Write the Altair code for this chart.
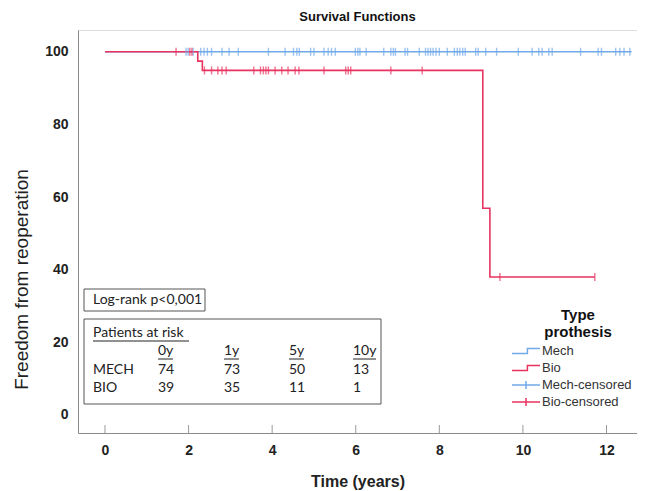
import altair as alt
import pandas as pd

# ---------------- data ----------------
mech_curve_time = [0, 12.6]
mech_curve_surv = [100, 100]
bio_curve_time = [0, 2.22, 2.33, 9.04, 9.21, 11.72]
bio_curve_surv = [100, 97.44, 94.87, 56.92, 37.95, 37.95]

mech_censor_times = [1.94, 1.99, 2.11, 2.29, 2.37, 2.45, 2.55, 2.80, 2.97, 3.19,
                     3.91, 4.31, 4.51, 4.59, 4.65, 4.92, 5.00, 5.24, 5.34, 5.42,
                     5.51, 5.99, 6.05, 6.10, 6.25, 6.67, 6.84, 6.90, 6.95, 7.18,
                     7.24, 7.52, 7.67, 7.73, 7.79, 7.85, 7.92, 8.00, 8.19, 8.36,
                     8.43, 8.49, 8.56, 8.62, 8.87, 8.93, 9.11, 9.37, 9.89, 10.22,
                     10.38, 10.46, 10.62, 10.70, 11.38, 11.80, 11.88, 12.22, 12.32,
                     12.42, 12.56]
bio_censor_times = [1.70, 2.03, 2.08, 2.38, 2.55, 2.70, 2.80, 2.90, 3.56, 3.72,
                    3.79, 3.85, 3.91, 4.07, 4.23, 4.38, 4.55, 4.64, 5.24, 5.76,
                    5.82, 5.88, 6.84, 7.59, 9.45, 11.72]

x_ticks = [0, 2, 4, 6, 8, 10, 12]
y_ticks = [0, 20, 40, 60, 80, 100]

legend_labels = ["Mech", "Bio", "Mech-censored", "Bio-censored"]
legend_colors = ["#72a9e8", "#e8335f", "#72a9e8", "#e8335f"]
STEP = "M-3,0.36H-0.8V-0.36H1H-0.8V0.36H-3"
CROSS = "M-3,0H1M-1,-0.57V0.57"
legend_shapes = [STEP, STEP, CROSS, CROSS]

logrank_text = "Log-rank p<0,001"
risk_title = "Patients at risk"
risk_years = ["0y", "1y", "5y", "10y"]
risk_groups = ["MECH", "BIO"]
mech_at_risk = [74, 73, 50, 13]
bio_at_risk = [39, 35, 11, 1]

# ---------------- tables ----------------
W, H = 559, 403
XDOM = [-0.646, 12.73]
YDOM = [-5, 106]


def step_value(t, times, surv):
    v = surv[0]
    for tt, s in zip(times, surv):
        if t >= tt:
            v = s
    return v


curves = pd.DataFrame(
    [{"t": t, "s": s, "grp": "Mech"} for t, s in zip(mech_curve_time, mech_curve_surv)]
    + [{"t": t, "s": s, "grp": "Bio"} for t, s in zip(bio_curve_time, bio_curve_surv)]
)
censors = pd.DataFrame(
    [{"t": t, "s": step_value(t, mech_curve_time, mech_curve_surv), "grp": "Mech-censored"}
     for t in mech_censor_times]
    + [{"t": t, "s": step_value(t, bio_curve_time, bio_curve_surv), "grp": "Bio-censored"}
       for t in bio_censor_times]
)

xs = alt.Scale(domain=XDOM, nice=False, zero=False)
ys = alt.Scale(domain=YDOM, nice=False, zero=False)
color_scale = alt.Scale(domain=legend_labels, range=legend_colors)
shape_scale = alt.Scale(domain=legend_labels, range=legend_shapes)

the_legend = alt.Legend(title=["Type", "prothesis"], orient="none",
                        legendX=447, legendY=278,
                        titleFontSize=15, titleFontWeight="bold",
                        titleAlign="center", titleAnchor="middle",
                        titleColor="#111", titleFont="Liberation Sans",
                        labelFontSize=13, labelColor="#333",
                        labelFont="Liberation Sans",
                        symbolSize=196, symbolStrokeWidth=1.5,
                        symbolOpacity=1, symbolFillColor="transparent",
                        rowPadding=2, labelOffset=1, titlePadding=3)

lines = alt.Chart(curves).mark_line(interpolate="step-after", strokeWidth=1.6).encode(
    x=alt.X("t:Q", scale=xs,
            axis=alt.Axis(values=x_ticks, title="Time (years)", ticks=False,
                          labelFontWeight="bold", labelFontSize=14, labelPadding=10,
                          titleFontSize=16, titleFontWeight="bold", titlePadding=16,
                          grid=False, domainColor="#8a8a8a", labelColor="#222",
                          titleColor="#222", labelFont="Liberation Sans",
                          titleFont="Liberation Sans")),
    y=alt.Y("s:Q", scale=ys,
            axis=alt.Axis(values=y_ticks, title="Freedom from reoperation", ticks=False,
                          labelFontWeight="bold", labelFontSize=14, labelPadding=10,
                          titleFontSize=19, titleFontWeight="normal",
                          titleX=-47, titleY=249, titleAnchor="middle",
                          grid=False, domainColor="#8a8a8a", labelColor="#222",
                          titleColor="#222", labelFont="Liberation Sans",
                          titleFont="Liberation Sans")),
    color=alt.Color("grp:N", scale=color_scale, legend=the_legend),
    detail="grp:N",
)

ticks_censor = alt.Chart(censors).mark_tick(orient="vertical", size=8, thickness=1.4).encode(
    x=alt.X("t:Q", scale=xs),
    y=alt.Y("s:Q", scale=ys),
    color=alt.Color("grp:N", scale=color_scale, legend=the_legend),
)

legend_df = pd.DataFrame({"grp": legend_labels, "t": [0] * 4, "s": [50] * 4})
legend_layer = alt.Chart(legend_df).mark_point(filled=False, opacity=0).encode(
    x=alt.X("t:Q", scale=xs),
    y=alt.Y("s:Q", scale=ys),
    color=alt.Color("grp:N", scale=color_scale, legend=the_legend),
    shape=alt.Shape("grp:N", scale=shape_scale, legend=the_legend),
)

# x-axis inward ticks
xt_df = pd.DataFrame({"t": x_ticks})
x_tick_rules = alt.Chart(xt_df).mark_rule(color="#9a9a9a", strokeWidth=1).encode(
    x=alt.X("t:Q", scale=xs),
    y=alt.value(H - 8),
    y2=alt.value(H),
)

# ---------------- annotation boxes ----------------
box_df = pd.DataFrame({
    "x": [6, 6], "x2": [127, 303], "y": [259, 289], "y2": [281, 374]
})
boxes = alt.Chart(box_df).mark_rect(fill="white", stroke="#555", strokeWidth=1).encode(
    x=alt.X("x:Q", scale=None), x2="x2:Q",
    y=alt.Y("y:Q", scale=None), y2="y2:Q",
)

col_x = [80, 146, 211, 275]
rows = []
rows.append({"txt": logrank_text, "px": 15, "py": 270})
rows.append({"txt": risk_title, "px": 15, "py": 303})
for cx, yr in zip(col_x, risk_years):
    rows.append({"txt": yr, "px": cx, "py": 321})
rows.append({"txt": risk_groups[0], "px": 15, "py": 340})
rows.append({"txt": risk_groups[1], "px": 15, "py": 358})
for cx, v in zip(col_x, mech_at_risk):
    rows.append({"txt": str(v), "px": cx, "py": 340})
for cx, v in zip(col_x, bio_at_risk):
    rows.append({"txt": str(v), "px": cx, "py": 358})
text_df = pd.DataFrame(rows)
texts = alt.Chart(text_df).mark_text(align="left", baseline="middle", font="Lato",
                                     fontSize=14, color="#222").encode(
    x=alt.X("px:Q", scale=None), y=alt.Y("py:Q", scale=None), text="txt:N"
)

ul_df = pd.DataFrame({
    "x": [15] + col_x,
    "x2": [15 + 96] + [cx + (23 if len(y) == 3 else 15) for cx, y in zip(col_x, risk_years)],
    "y": [311] + [329] * 4,
})
underlines = alt.Chart(ul_df).mark_rule(color="#222", strokeWidth=1).encode(
    x=alt.X("x:Q", scale=None), x2="x2:Q", y=alt.Y("y:Q", scale=None)
)

chart = alt.layer(
    lines, ticks_censor, legend_layer, x_tick_rules, boxes, underlines, texts
).resolve_scale(color="shared").properties(
    width=W, height=H,
    title=alt.TitleParams("Survival Functions", fontSize=13, fontWeight="bold",
                          font="Liberation Sans", anchor="middle", offset=6,
                          color="#111"),
    autosize=alt.AutoSizeParams(type="none"),
    padding={"left": 70, "top": 22, "right": 0, "bottom": 60},
).configure_view(stroke=None).configure(background="white")

chart.save("out.html", embed_options={"renderer": "svg", "actions": False})
